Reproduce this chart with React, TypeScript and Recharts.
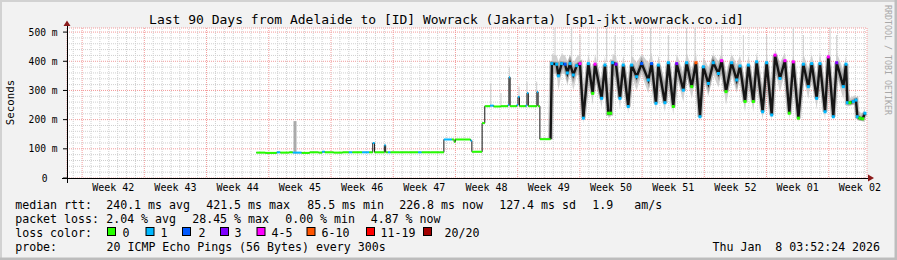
import React from 'react';
import {
  ComposedChart,
  Line,
  Area,
  XAxis,
  YAxis,
  CartesianGrid,
  ReferenceLine,
} from 'recharts';

const WIDTH = 897;
const HEIGHT = 260;
const PLOT_W = 800;
const X_MAX = 90;
const Y_MAX = 514;
const PX_PER_DAY = PLOT_W / X_MAX;
const FONT = '"DejaVu Sans Mono", monospace';

const COLORS = {
  back: '#f2f2f2',
  canvas: '#ffffff',
  minor: '#cfcfcf',
  major: '#f39a9a',
  axis: '#000000',
  arrow: '#8b1a1a',
  smoke: '#c6c6c6',
  median: '#151515',
};

// loss colour legend
const LOSS_COLORS = ['#26ff00', '#00b8ff', '#0059ff', '#7e00ff', '#ff00ff', '#ff5500', '#ff0000', '#a10000'];
const LOSS_LABELS = ['0', '1', '2', '3', '4-5', '6-10', '11-19', '20/20'];

// axes
const yTicks = [0, 100, 200, 300, 400, 500];
const weekLines = [1.7, 8.7, 15.7, 22.7, 29.7, 36.7, 43.7, 50.7, 57.7, 64.7, 71.7, 78.7, 85.7];
const weekMids = [5.2, 12.2, 19.2, 26.2, 33.2, 40.2, 47.2, 54.2, 61.2, 68.2, 75.2, 82.2, 89.2];
const weekLabels = ['Week 42', 'Week 43', 'Week 44', 'Week 45', 'Week 46', 'Week 47', 'Week 48',
  'Week 49', 'Week 50', 'Week 51', 'Week 52', 'Week 01', 'Week 02'];

// steady part (days since left edge, median rtt in ms, loss bucket)
const flatDays = [21.3, 22.3, 23.6, 24.0, 25.0, 25.4, 26.4, 27.3, 28.3, 28.7, 29.0, 30.0, 31.0, 31.7,
  32.1, 33.2, 34.0, 34.4, 34.6, 35.7, 35.85, 36.1, 36.4, 37.4, 38.4, 39.5, 39.9, 40.9, 41.9, 42.4,
  43.3, 43.55, 43.7, 44.7, 45.4, 45.55, 46.7, 47.0, 47.6, 48.0, 48.8, 49.6, 49.72, 49.85, 50.6,
  50.74, 50.9, 51.6, 51.75, 51.9, 52.75, 52.87, 53.0, 53.2, 54.4];
const flatMedian = [87, 86, 88, 87, 88, 87, 86, 88, 87, 90, 88, 87, 88, 88,
  88, 88, 88, 120, 88, 112, 88, 88, 88, 88, 88, 88, 88, 88, 88, 132,
  132, 124, 132, 132, 128, 90, 188, 246, 248, 245, 246, 250, 345, 246, 250,
  278, 246, 248, 291, 246, 246, 295, 246, 133, 133];
const flatLoss = [0, 0, 1, 0, 0, 1, 0, 0, 0, 1, 0, 0, 0, 1,
  0, 1, 0, 1, 0, 1, 0, 1, 0, 0, 0, 1, 0, 0, 0, 1,
  0, 0, 0, 0, 1, 0, 0, 0, 1, 0, 0, 1, 1, 0, 1,
  1, 0, 1, 1, 0, 0, 1, 0, 0, 0];

// oscillating part
const waveDays = [54.4, 54.55, 55.09, 55.28, 55.65, 56.03, 56.29, 56.59, 56.96, 57.34, 57.71, 58.09,
  58.65, 59.14, 59.4, 60.15, 60.52, 60.9, 61.16, 61.38, 61.76, 62.21, 62.58, 63.14, 63.52, 64.08,
  64.65, 65.4, 65.77, 66.26, 66.52, 67.27, 67.65, 68.21, 68.59, 69.34, 69.71, 70.28, 70.76, 71.21,
  71.59, 72.15, 72.71, 73.28, 73.65, 74.14, 74.77, 75.34, 75.71, 76.28, 76.65, 77.21, 77.59, 78.26,
  78.71, 79.28, 79.65, 80.21, 80.77, 81.26, 81.71, 82.28, 82.84, 83.4, 83.78, 84.34, 84.71, 85.28,
  85.65, 86.21, 86.59, 87.34, 87.64, 87.79, 88.09, 88.46, 88.76, 88.91, 89.21, 89.51, 89.77];
const waveMedian = [133, 392, 390, 350, 392, 390, 360, 392, 353, 385, 392, 205,
  392, 290, 390, 273, 387, 222, 222, 395, 390, 273, 387, 245, 387, 347,
  392, 336, 392, 256, 387, 258, 395, 245, 392, 301, 395, 313, 395, 210,
  381, 324, 395, 358, 402, 296, 395, 336, 384, 262, 387, 262, 398, 227,
  395, 216, 421, 341, 402, 222, 398, 205, 390, 313, 392, 273, 392, 227,
  415, 210, 395, 313, 390, 258, 258, 262, 267, 210, 205, 203, 222];
const waveLoss = [0, 1, 1, 1, 1, 2, 1, 1, 1, 1, 4, 1,
  1, 0, 4, 1, 1, 0, 0, 1, 3, 1, 1, 1, 1, 1,
  2, 1, 2, 1, 1, 1, 1, 0, 3, 1, 1, 0, 5, 1,
  1, 1, 1, 1, 4, 0, 1, 1, 1, 0, 1, 0, 1, 1,
  1, 1, 4, 1, 4, 0, 4, 0, 1, 1, 1, 1, 1, 1,
  4, 1, 3, 1, 1, 1, 0, 1, 1, 1, 0, 0, 1];
const smokeLo = [133, 355, 360, 300, 360, 355, 315, 360, 300, 350, 355, 185,
  350, 250, 350, 240, 350, 205, 210, 355, 340, 235, 350, 220, 350, 300,
  355, 290, 355, 225, 345, 225, 355, 215, 350, 260, 355, 270, 355, 190,
  340, 280, 355, 310, 360, 250, 355, 290, 345, 225, 345, 225, 355, 200,
  350, 195, 370, 295, 360, 200, 355, 190, 350, 270, 350, 235, 350, 200,
  365, 195, 350, 270, 345, 245, 248, 250, 252, 198, 196, 196, 205];
const smokeHi = [133, 425, 420, 400, 425, 420, 400, 420, 395, 415, 425, 280,
  425, 350, 425, 330, 420, 290, 300, 425, 420, 330, 420, 320, 420, 395,
  425, 395, 430, 320, 420, 330, 425, 310, 425, 360, 430, 370, 430, 290,
  415, 380, 425, 400, 430, 360, 425, 390, 420, 330, 420, 330, 430, 300,
  430, 290, 440, 395, 430, 300, 430, 280, 425, 375, 425, 340, 430, 300,
  440, 290, 430, 370, 420, 300, 275, 280, 285, 235, 225, 222, 240];

// thin smoke columns (single outlier pings)
const spikeDays = [25.65, 47.67, 48.82, 49.76, 50.85, 51.75, 52.84, 54.9, 56.78, 57.71, 59.66, 60.72,
  61.65, 63.53, 65.66, 67.65, 69.71, 70.65, 73.65, 76.09, 78.71, 81.71, 82.84, 85.84, 86.59];
const spikeTop = [195, 324, 291, 381, 313, 330, 330, 514, 514, 490, 514, 514,
  490, 490, 514, 490, 514, 514, 490, 490, 490, 514, 490, 514, 490];
const spikeBase = [88, 246, 246, 246, 246, 246, 246, 400, 400, 400, 400, 400,
  400, 400, 400, 400, 400, 400, 400, 400, 400, 400, 400, 400, 400];

// legend text
const rttLine = [['median rtt:', 16], ['240.1 ms avg', 107], ['421.5 ms max', 207], ['85.5 ms min', 308],
  ['226.8 ms now', 400], ['127.4 ms sd', 500], ['1.9', 593], ['am/s', 635]] as const;
const lossLine = [['packet loss:', 16], ['2.04 % avg', 107], ['28.45 % max', 193], ['0.00 % min', 286],
  ['4.87 % now', 371.5]] as const;
const lossBoxX = [107.5, 146, 182.5, 220.5, 257, 307, 366.5, 423.5];
const lossLabelX = [122.5, 160.5, 198.5, 234.5, 271.5, 321.5, 380.5, 444.5];
const TITLE = 'Last 90 Days from Adelaide to [ID] Wowrack (Jakarta) [sp1-jkt.wowrack.co.id]';
const PROBE = '20 ICMP Echo Pings (56 Bytes) every 300s';
const STAMP = 'Thu Jan  8 03:52:24 2026';

function buildRows() {
  const rows: any[] = flatDays.map((day, i) => ({
    day,
    flat: flatMedian[i],
    flatLoss: flatLoss[i],
    span: i < flatDays.length - 1 ? flatDays[i + 1] - day : 0,
  }));
  waveDays.forEach((day, i) => {
    const row = { day, wave: waveMedian[i], waveLoss: waveLoss[i], lo: smokeLo[i], hi: smokeHi[i] };
    if (i === 0) Object.assign(rows[rows.length - 1], row);
    else rows.push(row);
  });
  return rows;
}

const minorY: number[] = [];
for (let v = 20; v <= 500; v += 20) if (v % 100 !== 0) minorY.push(v);
const minorX: number[] = [];
for (let d = 0.7; d < X_MAX; d += 1) if (!weekLines.some((w) => Math.abs(w - d) < 0.01)) minorX.push(d);

const XTick = (props: any) => {
  const { x, y, payload } = props;
  const i = weekMids.indexOf(payload.value);
  return (
    <text x={x} y={y + 13} textAnchor="middle" fontFamily={FONT} fontSize={10} fill="#000">
      {weekLabels[i]}
    </text>
  );
};

const YTick = (props: any) => {
  const { x, y, payload } = props;
  const v = payload.value;
  return (
    <text x={v === 0 ? x - 15.5 : x - 5.5} y={y + 3.5} textAnchor="end" fontFamily={FONT} fontSize={9.6} fill="#000">
      {v === 0 ? '0' : `${v} m`}
    </text>
  );
};

const FlatDash = (props: any) => {
  const { cx, cy, payload } = props;
  if (cx == null || cy == null || payload.flat == null || !payload.span) return null;
  return (
    <rect x={cx} y={cy - 1} width={payload.span * PX_PER_DAY} height={2}
      fill={LOSS_COLORS[payload.flatLoss]} />
  );
};

const WaveDot = (props: any) => {
  const { cx, cy, payload, index } = props;
  if (cx == null || cy == null || payload.wave == null || payload.flat != null) return null;
  return <rect key={index} x={cx - 1.5} y={cy - 1.5} width={3} height={3} fill={LOSS_COLORS[payload.waveLoss]} />;
};

export default function App() {
  const rows = buildRows();
  const textProps = { fontFamily: FONT, fontSize: 11.6, fill: '#000', xmlSpace: 'preserve', style: { whiteSpace: 'pre' } } as any;

  return (
    <div style={{ position: 'fixed', left: 0, top: 0, width: WIDTH, height: HEIGHT, background: COLORS.back, overflow: 'hidden' }}>
      <ComposedChart width={WIDTH} height={HEIGHT} data={rows} margin={{ top: 28, right: 30, bottom: 62, left: 0 }}>
        <XAxis
          dataKey="day"
          type="number"
          domain={[0, X_MAX]}
          ticks={weekMids}
          interval={0}
          tick={<XTick />}
          tickLine={false}
          tickSize={0}
          tickMargin={0}
          axisLine={false}
          height={20}
          allowDataOverflow
        />
        {/* hidden axis that only carries the week boundaries for the grid */}
        <XAxis
          xAxisId="weeks"
          dataKey="day"
          type="number"
          domain={[0, X_MAX]}
          ticks={weekLines}
          interval={0}
          hide
          allowDataOverflow
        />
        <YAxis
          type="number"
          domain={[0, Y_MAX]}
          ticks={yTicks}
          interval={0}
          tick={<YTick />}
          tickLine={{ stroke: COLORS.axis }}
          tickSize={4}
          tickMargin={0}
          axisLine={false}
          width={67}
          allowDataOverflow
        />

        {/* plot canvas + major grid */}
        <CartesianGrid
          xAxisId="weeks"
          fill={COLORS.canvas}
          fillOpacity={1}
          stroke={COLORS.major}
          strokeDasharray="1 1"
        />

        {/* minor grid */}
        {minorY.map((v) => (
          <ReferenceLine key={`my${v}`} y={v} stroke={COLORS.minor} strokeDasharray="1 1" />
        ))}
        {minorX.map((d) => (
          <ReferenceLine key={`mx${d}`} x={d} stroke={COLORS.minor} strokeDasharray="1 1" />
        ))}

        {/* smoke */}
        <Area
          type="linear"
          dataKey={(d: any) => (d.hi != null ? [d.lo, d.hi] : null)}
          stroke="none"
          fill={COLORS.smoke}
          fillOpacity={0.8}
          connectNulls={false}
          isAnimationActive={false}
        />
        {spikeDays.map((d, i) => (
          <ReferenceLine
            key={`s${d}`}
            segment={[{ x: d, y: spikeBase[i] }, { x: d, y: spikeTop[i] }]}
            stroke={i === 0 ? '#aaaaaa' : '#cdcdcd'}
            strokeWidth={i === 0 ? 3 : 1}
          />
        ))}

        {/* median */}
        <Line type="linear" dataKey="wave" stroke="#6a6a6a" strokeOpacity={0.4} strokeWidth={5}
          dot={false} activeDot={false} connectNulls={false} isAnimationActive={false} />
        <Line type="stepAfter" dataKey="flat" stroke={COLORS.median} strokeWidth={1}
          dot={(p: any) => <FlatDash key={`f${p.index}`} {...p} />} activeDot={false}
          connectNulls={false} isAnimationActive={false} />
        <Line type="linear" dataKey="wave" stroke={COLORS.median} strokeWidth={2.4}
          dot={(p: any) => <WaveDot key={`w${p.index}`} {...p} />} activeDot={false}
          connectNulls={false} isAnimationActive={false} />
      </ComposedChart>

      <svg width={WIDTH} height={HEIGHT} style={{ position: 'absolute', left: 0, top: 0, pointerEvents: 'none' }}>
        {/* frame */}
        <path d="M0 0 H897 V2 H2 V260 H0 Z" fill="#d2d2d2" />
        <path d="M897 260 H0 V257.5 H894.5 V0 H897 Z" fill="#bdbdbd" />

        {/* axes */}
        <line x1={62} x2={870} y1={178} y2={178} stroke={COLORS.axis} shapeRendering="crispEdges" />
        <line x1={67} x2={67} y1={183} y2={25} stroke={COLORS.axis} shapeRendering="crispEdges" />
        <polygon points="868,174.5 874,178 868,181.5" fill={COLORS.arrow} />
        <polygon points="63.5,26 67,20.5 70.5,26" fill={COLORS.arrow} />

        <text x={446.5} y={24} textAnchor="middle" fontFamily={FONT} fontSize={13} fill="#000">{TITLE}</text>
        <text x={14} y={102.5} textAnchor="middle" fontFamily={FONT} fontSize={10.8} fill="#000"
          transform="rotate(-90 14 102.5)">Seconds</text>
        <text x={885} y={5} fontFamily={FONT} fontSize={8.3} fill="#a8a8a8"
          transform="rotate(90 885 5)">RRDTOOL / TOBI OETIKER</text>

        {rttLine.map(([t, x]) => (
          <text key={t} x={x - 0.8} y={208.5} {...textProps}>{t}</text>
        ))}
        {lossLine.map(([t, x]) => (
          <text key={t} x={x - 0.8} y={222.5} {...textProps}>{t}</text>
        ))}
        <text x={15.2} y={236.5} {...textProps}>loss color:</text>
        {LOSS_COLORS.map((c, i) => (
          <g key={c}>
            <rect x={lossBoxX[i]} y={227.5} width={8} height={8} fill={c} stroke="#000" strokeWidth={1} />
            <text x={lossLabelX[i]} y={236.5} {...textProps}>{LOSS_LABELS[i]}</text>
          </g>
        ))}
        <text x={15.2} y={250.5} {...textProps}>probe:</text>
        <text x={106.5} y={250.5} {...textProps}>{PROBE}</text>
        <text x={712.5} y={250.5} {...textProps}>{STAMP}</text>
      </svg>
    </div>
  );
}
